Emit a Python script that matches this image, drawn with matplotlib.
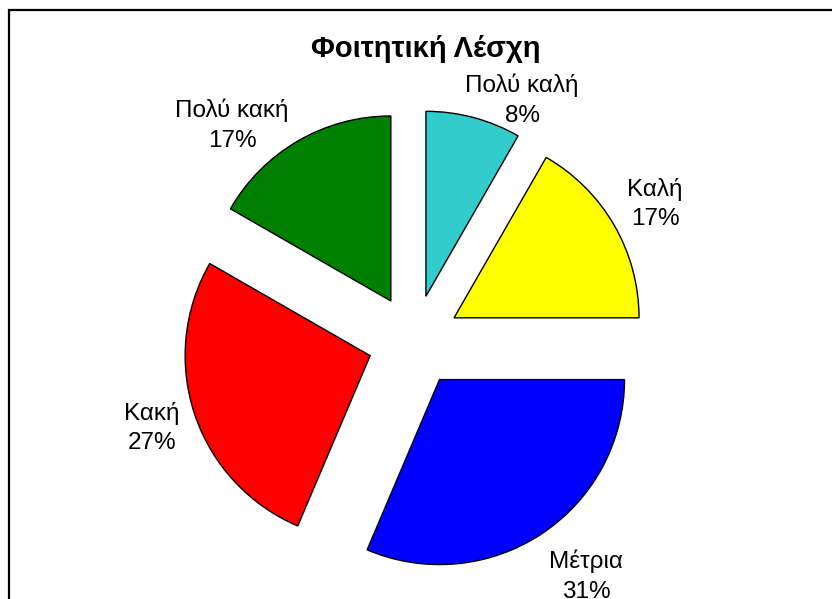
import numpy as np
import matplotlib.pyplot as plt
from matplotlib.patches import Rectangle

plt.rcParams['font.family'] = ['Liberation Sans', 'DejaVu Sans']

# Data (shares; labels show rounded percents)
labels = ['Πολύ καλή', 'Καλή', 'Μέτρια', 'Κακή', 'Πολύ κακή']
shares = [8.3, 16.7, 31.4, 26.9, 16.7]
colors = ['#33CCCC', '#FFFF00', '#0000FF', '#FF0000', '#008000']
title = 'Φοιτητική Λέσχη'

# label centres in pixels (from top-left), as placed in the original
label_pos = [(522, 100), (655, 204), (586, 576), (152, 428), (232, 125)]

W, H = 832, 599
R = 185.0          # pie radius in pixels
cx, cy = 414, 341  # pie centre in pixels (from top-left)

fig = plt.figure(figsize=(W / 100, H / 100), dpi=100)
ax = fig.add_axes([0, 0, 1, 1])
ax.axis('off')

# frame around chart area (cut off on right/bottom like the original)
fig.patches.append(Rectangle((8.5 / W, -0.1), 1.2, 1 - 9.5 / H + 0.1,
                             transform=fig.transFigure, fill=False,
                             edgecolor='black', linewidth=1.6))

texts = [f'{l}\n{round(s)}%' for l, s in zip(labels, shares)]
wedges, txts = ax.pie(shares, labels=texts, colors=colors,
                      startangle=90, counterclock=False,
                      explode=[0.25] * len(shares), radius=1,
                      wedgeprops=dict(edgecolor='black', linewidth=1.0),
                      textprops=dict(fontsize=17.5, ha='center', va='center',
                                     linespacing=1.45))
ax.set_aspect('auto')
ax.set_xlim(-cx / R, (W - cx) / R)
ax.set_ylim(-(H - cy) / R, cy / R)

for t, (px, py) in zip(txts, label_pos):
    t.set_transform(fig.transFigure)
    t.set_position((px / W, 1 - py / H))

fig.text(426 / W, 1 - 49 / H, title, ha='center', va='center',
         fontsize=21, fontweight='bold')

fig.savefig('out.png', dpi=100)
